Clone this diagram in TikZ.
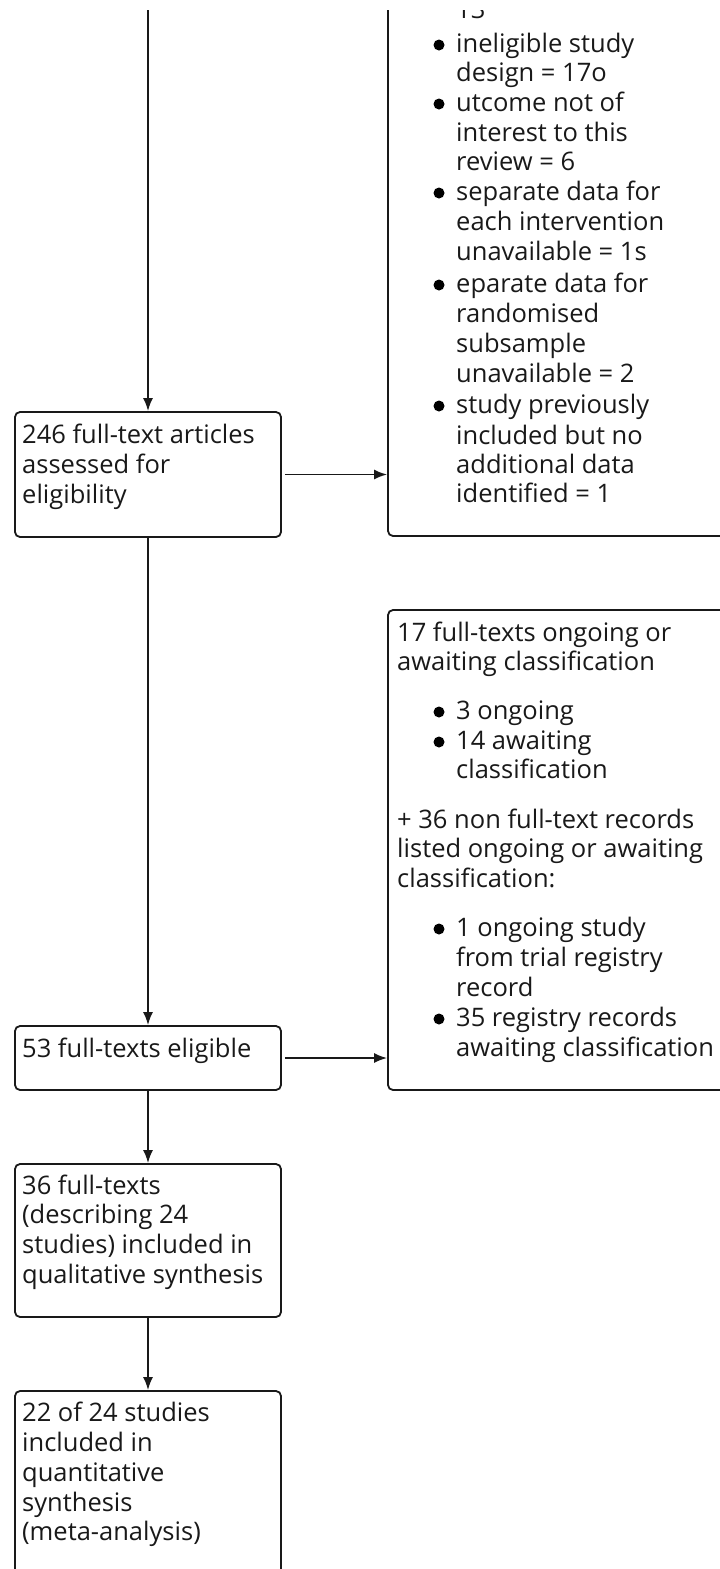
\documentclass[tikz,border=0pt]{standalone}
\usepackage{fontspec}
\setmainfont{Open Sans}
\usetikzlibrary{arrows.meta}
\begin{document}
\begin{tikzpicture}[x=1pt,y=-1pt,
  box/.style={draw=black!90, line width=1.8pt, rounded corners=5pt, inner sep=0pt},
  txt/.style={anchor=base west, inner sep=0pt, font=\fontsize{25.5}{30}\selectfont, text=black!90},
  conn/.style={draw=black!90, line width=1.8pt, -{Latex[length=13pt,width=10pt]}},
  bul/.style={circle, fill=black, inner sep=0pt, minimum size=11pt}]
\useasboundingbox[fill=white] (0,0) rectangle (720,1569);
\begin{scope}
\clip (0,10) rectangle (720,1569);
% left boxes
\node[box, minimum width=266pt, minimum height=125pt] (b1) at (148,474.5) {};
\node[box, minimum width=266pt, minimum height=64pt] (b2) at (148,1058) {};
\node[box, minimum width=266pt, minimum height=153pt] (b3) at (148,1240.5) {};
\node[box, minimum width=266pt, minimum height=229pt] (b4) at (148,1505.5) {};
% right boxes
\node[box, minimum width=402pt, minimum height=600pt] (r1) at (589,236) {};
\node[box, minimum width=402pt, minimum height=480pt] (r2) at (589,850) {};
% connectors
\coordinate (top) at (148,0);
\draw[conn] (top) -- (b1.north);
\draw[conn] (b1.south) -- (b2.north);
\draw[conn] (b2.south) -- (b3.north);
\draw[conn] (b3.south) -- (b4.north);
\draw[conn, shorten <=3pt] (b1.east) -- (b1.east -| r1.west);
\draw[conn, shorten <=3pt] (b2.east) -- (b2.east -| r2.west);
% left texts
\node[txt] (t1a) at (22,443) {246 full-text articles};
\node[txt] (t1b) at (22,473) {assessed for};
\node[txt] (t1c) at (22,503) {eligibility};
\node[txt] (t2a) at (22,1057) {53 full-texts eligible};
\node[txt] (t3a) at (22,1194) {36 full-texts};
\node[txt] (t3b) at (22,1223) {(describing 24};
\node[txt] (t3c) at (22,1253) {studies) included in};
\node[txt] (t3d) at (22,1283) {qualitative synthesis};
\node[txt] (t4a) at (22,1421) {22 of 24 studies};
\node[txt] (t4b) at (22,1451) {included in};
\node[txt] (t4c) at (22,1481) {quantitative};
\node[txt] (t4d) at (22,1511) {synthesis};
\node[txt] (t4e) at (22,1540) {(meta-analysis)};
% right box 1 texts
\node[txt] (r1t0) at (456,18) {13};
\node[bul] (r1b1) at (439,45) {};
\node[txt] (r1t1) at (456,52) {ineligible study};
\node[txt] (r1t2) at (456,81) {design = 17o};
\node[bul] (r1b2) at (439,104) {};
\node[txt] (r1t3) at (456,111) {utcome not of};
\node[txt] (r1t4) at (456,141) {interest to this};
\node[txt] (r1t5) at (456,170) {review = 6};
\node[bul] (r1b3) at (439,193) {};
\node[txt] (r1t6) at (456,200) {separate data for};
\node[txt] (r1t7) at (456,230) {each intervention};
\node[txt] (r1t8) at (456,260) {unavailable = 1s};
\node[bul] (r1b4) at (439,285) {};
\node[txt] (r1t9) at (456,292) {eparate data for};
\node[txt] (r1t10) at (456,322) {randomised};
\node[txt] (r1t11) at (456,352) {subsample};
\node[txt] (r1t12) at (456,382) {unavailable = 2};
\node[bul] (r1b5) at (439,406) {};
\node[txt] (r1t13) at (456,413) {study previously};
\node[txt] (r1t14) at (456,444) {included but no};
\node[txt] (r1t15) at (456,473) {additional data};
\node[txt] (r1t16) at (456,502) {identified = 1};
% right box 2 texts
\node[txt] (r2t1) at (397,641) {17 full-texts ongoing or};
\node[txt] (r2t2) at (397,670) {awaiting classification};
\node[bul] (r2b1) at (439,712) {};
\node[txt] (r2t3) at (456,719) {3 ongoing};
\node[bul] (r2b2) at (439,742) {};
\node[txt] (r2t4) at (456,749) {14 awaiting};
\node[txt] (r2t5) at (456,778) {classification};
\node[txt] (r2t6) at (397,828) {+ 36 non full-text records};
\node[txt] (r2t7) at (397,857) {listed ongoing or awaiting};
\node[txt] (r2t8) at (397,887) {classification:};
\node[bul] (r2b3) at (439,929) {};
\node[txt] (r2t9) at (456,936) {1 ongoing study};
\node[txt] (r2t10) at (456,966) {from trial registry};
\node[txt] (r2t11) at (456,996) {record};
\node[bul] (r2b4) at (439,1019) {};
\node[txt] (r2t12) at (456,1026) {35 registry records};
\node[txt] (r2t13) at (456,1056) {awaiting classification};
\end{scope}
\end{tikzpicture}
\end{document}
